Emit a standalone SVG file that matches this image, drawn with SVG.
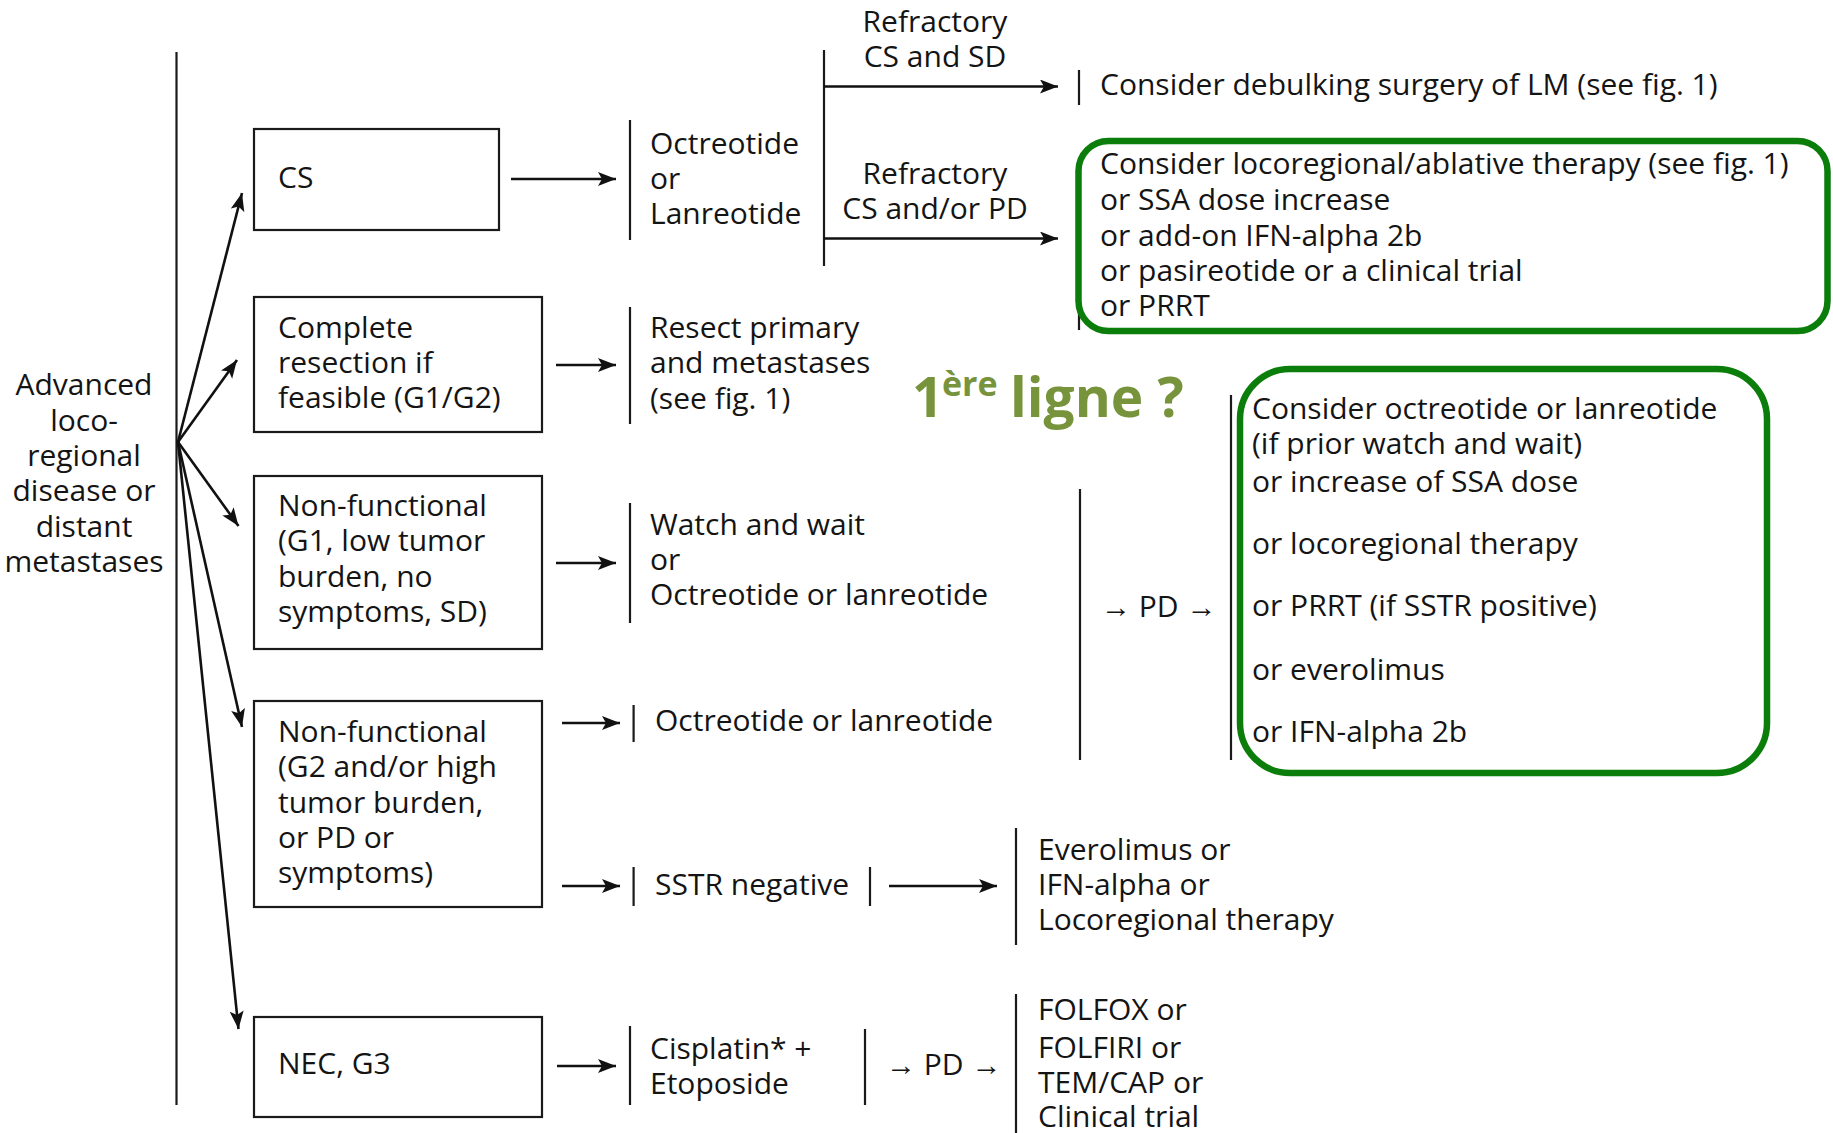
<svg xmlns="http://www.w3.org/2000/svg" width="1833" height="1133" viewBox="0 0 1833 1133">
<style>
.t{font-family:"Open Sans","Liberation Sans",sans-serif;font-size:30px;fill:#141414}
.c{text-anchor:middle}
.box{fill:none;stroke:#1a1a1a;stroke-width:2.2}
.bar{stroke:#1a1a1a;stroke-width:2.2;fill:none}
.ln{stroke:#111;stroke-width:2.6;fill:none;marker-end:url(#ah)}
.green{fill:none;stroke:#0b7d0b;stroke-width:6.5}
.q{font-family:"Open Sans","Liberation Sans",sans-serif;font-weight:bold;fill:#77933c}
</style>
<defs>
<marker id="ah" markerUnits="userSpaceOnUse" markerWidth="20" markerHeight="16" refX="18" refY="7" orient="auto">
<path d="M0,0 L18,7 L0,14 L4,7 z" fill="#111"/>
</marker>
</defs>
<rect width="1833" height="1133" fill="#fff"/>

<g id="connectors">
<path class="bar" d="M176.5,52 V1105"/>
<path class="ln" d="M178,442 L242,193"/>
<path class="ln" d="M178,442 L237,360"/>
<path class="ln" d="M178,442 L238.5,526"/>
<path class="ln" d="M178,442 L242,727"/>
<path class="ln" d="M178,442 L238.5,1029"/>
<path class="ln" d="M511,179 H616"/>
<path class="ln" d="M556,365 H616"/>
<path class="ln" d="M556,563 H616"/>
<path class="ln" d="M562,723 H620"/>
<path class="ln" d="M562,886 H620"/>
<path class="ln" d="M557,1066 H616"/>
<path class="ln" d="M889,886 H997"/>
<path class="bar" d="M824,50 V266"/>
<path class="ln" d="M824,86.5 H1058"/>
<path class="ln" d="M824,238.5 H1058"/>
<path class="bar" d="M630,120 V240 M630,307 V424 M630,503 V623 M630,1026 V1105 M633.6,705 V742 M633.6,867 V906 M870,867 V906 M865,1029 V1105 M1016,828 V945 M1016,994 V1133 M1079,70 V105 M1080,489 V760 M1231,395 V760 M1079,175 V330"/>
</g>

<g id="n-advanced">
<text class="t c"><tspan x="84" y="395">Advanced</tspan><tspan x="84" y="431">loco-</tspan><tspan x="84" y="466">regional</tspan><tspan x="84" y="501">disease or</tspan><tspan x="84" y="537">distant</tspan><tspan x="84" y="572">metastases</tspan></text>
</g>

<g id="n-cs">
<rect class="box" x="254" y="129" width="245" height="101"/>
<text class="t" x="278" y="188">CS</text>
</g>
<g id="n-complete">
<rect class="box" x="254" y="297" width="288" height="135"/>
<text class="t"><tspan x="278" y="338">Complete</tspan><tspan x="278" y="373">resection if</tspan><tspan x="278" y="408">feasible (G1/G2)</tspan></text>
</g>
<g id="n-nf1">
<rect class="box" x="254" y="476" width="288" height="173"/>
<text class="t"><tspan x="278" y="516">Non-functional</tspan><tspan x="278" y="551">(G1, low tumor</tspan><tspan x="278" y="587">burden, no</tspan><tspan x="278" y="622">symptoms, SD)</tspan></text>
</g>
<g id="n-nf2">
<rect class="box" x="254" y="701" width="288" height="206"/>
<text class="t"><tspan x="278" y="742">Non-functional</tspan><tspan x="278" y="777">(G2 and/or high</tspan><tspan x="278" y="813">tumor burden,</tspan><tspan x="278" y="848">or PD or</tspan><tspan x="278" y="883">symptoms)</tspan></text>
</g>
<g id="n-nec">
<rect class="box" x="254" y="1017" width="288" height="100"/>
<text class="t" x="278" y="1074">NEC, G3</text>
</g>

<g id="n-oct1">
<text class="t"><tspan x="650" y="154">Octreotide</tspan><tspan x="650" y="189">or</tspan><tspan x="650" y="224">Lanreotide</tspan></text>
</g>
<g id="n-resect">
<text class="t"><tspan x="650" y="338">Resect primary</tspan><tspan x="650" y="373">and metastases</tspan><tspan x="650" y="409">(see fig. 1)</tspan></text>
</g>
<g id="n-watch">
<text class="t"><tspan x="650" y="535">Watch and wait</tspan><tspan x="650" y="570">or</tspan><tspan x="650" y="605">Octreotide or lanreotide</tspan></text>
</g>
<g id="n-oct2">
<text class="t" x="655" y="731">Octreotide or lanreotide</text>
</g>
<g id="n-sstr">
<text class="t" x="655" y="895">SSTR negative</text>
</g>
<g id="n-everolimus">
<text class="t"><tspan x="1038" y="860">Everolimus or</tspan><tspan x="1038" y="895">IFN-alpha or</tspan><tspan x="1038" y="930">Locoregional therapy</tspan></text>
</g>
<g id="n-cisplatin">
<text class="t"><tspan x="650" y="1059">Cisplatin* +</tspan><tspan x="650" y="1094">Etoposide</tspan></text>
</g>
<g id="n-pd2">
<text class="t" x="886" y="1075">→ PD →</text>
</g>
<g id="n-folfox">
<text class="t"><tspan x="1038" y="1020">FOLFOX or</tspan><tspan x="1038" y="1058">FOLFIRI or</tspan><tspan x="1038" y="1093">TEM/CAP or</tspan><tspan x="1038" y="1127">Clinical trial</tspan></text>
</g>

<g id="n-refr1">
<text class="t c"><tspan x="935" y="32">Refractory</tspan><tspan x="935" y="67">CS and SD</tspan></text>
</g>
<g id="n-refr2">
<text class="t c"><tspan x="935" y="184">Refractory</tspan><tspan x="935" y="219">CS and/or PD</tspan></text>
</g>
<g id="n-debulk">
<text class="t" x="1100" y="95">Consider debulking surgery of LM (see fig. 1)</text>
</g>
<g id="n-green1">
<rect class="green" x="1078.5" y="141" width="749" height="190" rx="30"/>
<text class="t"><tspan x="1100" y="174">Consider locoregional/ablative therapy (see fig. 1)</tspan><tspan x="1100" y="210">or SSA dose increase</tspan><tspan x="1100" y="246">or add-on IFN-alpha 2b</tspan><tspan x="1100" y="281">or pasireotide or a clinical trial</tspan><tspan x="1100" y="316">or PRRT</tspan></text>
</g>
<g id="n-label">
<text class="q"><tspan x="912" y="417" font-size="55">1</tspan><tspan x="942" y="396" font-size="34">ère</tspan><tspan x="1010" y="417" font-size="55">ligne ?</tspan></text>
</g>
<g id="n-pd1">
<text class="t" x="1101" y="617">→ PD →</text>
</g>
<g id="n-green2">
<rect class="green" x="1240" y="369" width="527" height="404" rx="50"/>
<text class="t"><tspan x="1252" y="419">Consider octreotide or lanreotide</tspan><tspan x="1252" y="454">(if prior watch and wait)</tspan><tspan x="1252" y="492">or increase of SSA dose</tspan><tspan x="1252" y="554">or locoregional therapy</tspan><tspan x="1252" y="616">or PRRT (if SSTR positive)</tspan><tspan x="1252" y="680">or everolimus</tspan><tspan x="1252" y="742">or IFN-alpha 2b</tspan></text>
</g>
</svg>
